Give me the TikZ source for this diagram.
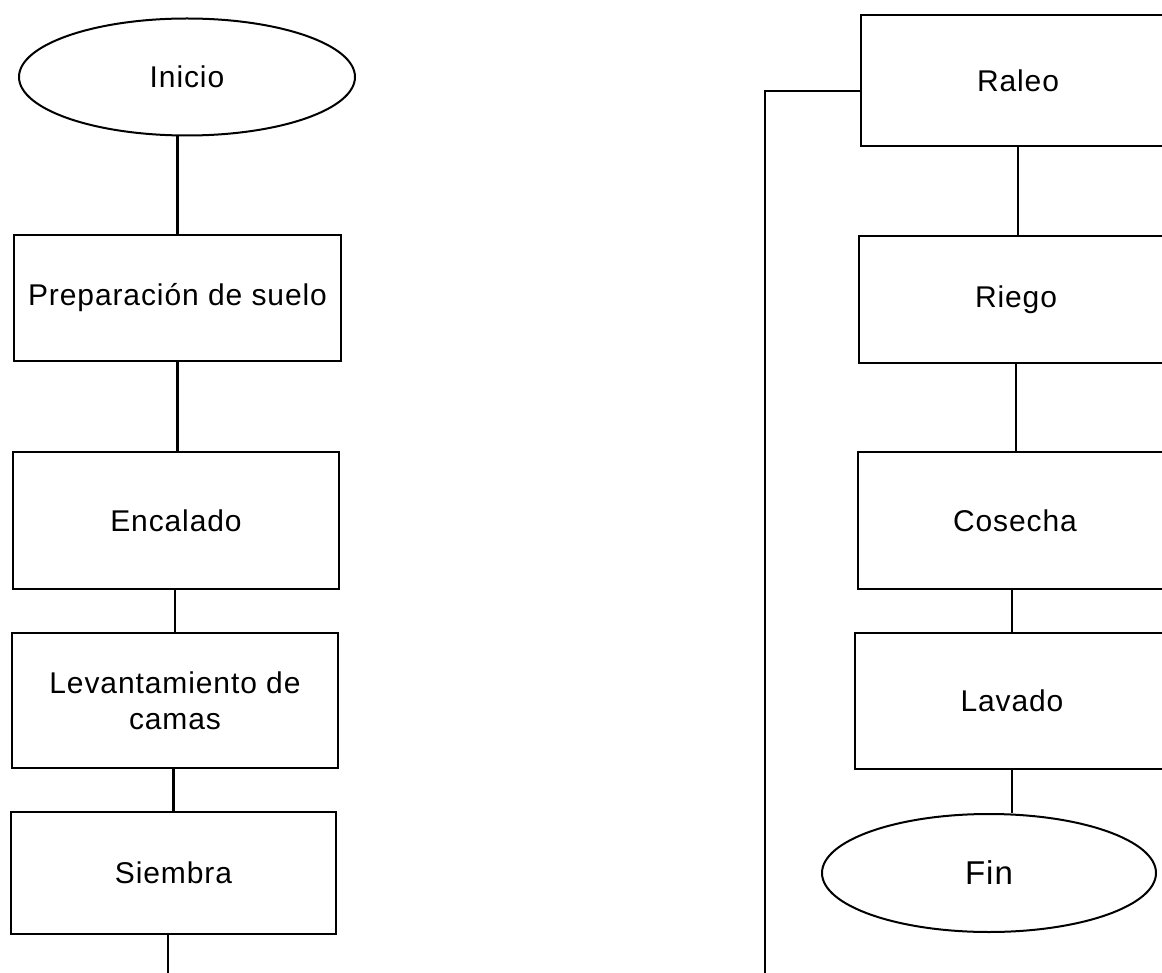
\documentclass[tikz,border=0pt]{standalone}
\usepackage{fontspec}
\setmainfont[LetterSpace=3]{Liberation Sans}
\usetikzlibrary{shapes.geometric}
\tikzset{
  stepbox/.style={draw=black, line width=2.5pt, rectangle, inner sep=0pt,
    minimum width=#1, align=center, font=\fontsize{30}{36}\selectfont},
  stepbox/.default=326pt,
  terminal/.style={draw=black, line width=2pt, ellipse, inner sep=0pt,
    font=\fontsize{30}{36}\selectfont},
  link/.style={draw=black, line width=2.3pt}
}
\begin{document}
\begin{tikzpicture}[x=1pt,y=-1pt]
\useasboundingbox (0,0) rectangle (1162,973);
\fill[white] (0,0) rectangle (1162,973);
\clip (0,0) rectangle (1162,973);

% left column
\node[terminal, minimum width=336pt, minimum height=117pt] (inicio) at (187,77) {Inicio};
\node[stepbox=327pt, minimum height=126pt] (prep) at (177.5,298) {Preparación de suelo};
\node[stepbox=326pt, minimum height=137pt] (encal) at (176,520.5) {Encalado};
\node[stepbox=326pt, minimum height=135pt] (levant) at (175,700.5) {Levantamiento de\\camas};
\node[stepbox=325pt, minimum height=122pt] (siembra) at (173.5,873) {Siembra};

% right column
\node[stepbox=314pt, minimum height=131pt] (raleo) at (1018,80.5) {Raleo};
\node[stepbox=314pt, minimum height=127pt] (riego) at (1016,299.5) {Riego};
\node[stepbox=314pt, minimum height=137pt] (cosecha) at (1015,520.5) {Cosecha};
\node[stepbox=314pt, minimum height=136pt] (lavado) at (1012,701) {Lavado};
\node[terminal, minimum width=334pt, minimum height=118pt, font=\fontsize{33}{40}\selectfont] (fin) at (989,873) {Fin};

% connectors left
\draw[link] (prep.north) -- (prep.north |- inicio.south);
\draw[link] (prep.south) -- (prep.south |- encal.north);
\draw[link] (levant.north) -- (levant.north |- encal.south);
\draw[link] (siembra.north) -- (siembra.north |- levant.south);
\coordinate (sEnd) at (168,975);
\draw[link] (siembra.south -| sEnd) -- (sEnd);

% connectors right
\coordinate (loopTop) at (765,91);
\coordinate (loopBot) at (765,975);
\draw[link] (raleo.west |- loopTop) -- (loopTop) -- (loopBot);
\draw[link] (raleo.south) -- (raleo.south |- riego.north);
\draw[link] (riego.south) -- (riego.south |- cosecha.north);
\draw[link] (lavado.north) -- (lavado.north |- cosecha.south);
\draw[link] (lavado.south) -- (lavado.south |- fin.north);
\end{tikzpicture}
\end{document}
